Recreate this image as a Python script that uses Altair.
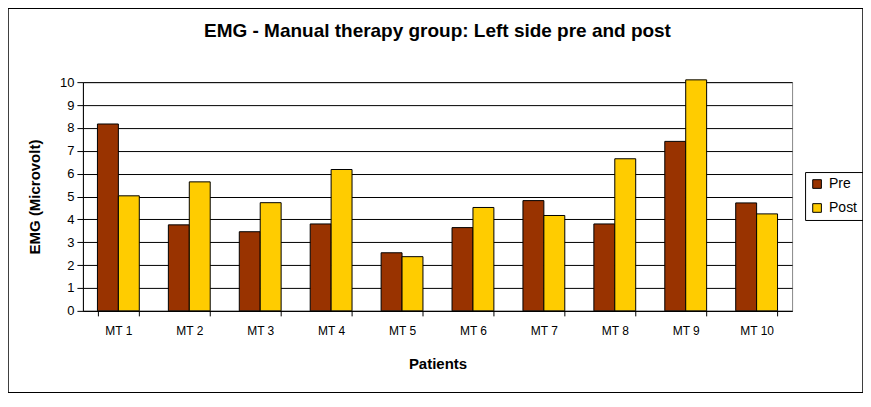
import altair as alt
import pandas as pd

patients = ["MT 1", "MT 2", "MT 3", "MT 4", "MT 5", "MT 6", "MT 7", "MT 8", "MT 9", "MT 10"]
pre = [8.17, 3.76, 3.46, 3.8, 2.54, 3.64, 4.82, 3.8, 7.41, 4.72]
post = [5.03, 5.64, 4.73, 6.18, 2.37, 4.52, 4.17, 6.65, 10.1, 4.24]
series = ["Pre", "Post"]
colors = ["#993300", "#FFCC00"]

rows = []
for p, a, b in zip(patients, pre, post):
    rows.append({"Patient": p, "Series": "Pre", "Value": a})
    rows.append({"Patient": p, "Series": "Post", "Value": b})
df = pd.DataFrame(rows)

W, H = 710, 229
FONT = "Liberation Sans"

bars = alt.Chart(df).mark_bar(stroke="black", strokeWidth=1).encode(
    x=alt.X("Patient:N", sort=patients,
            scale=alt.Scale(paddingInner=0.41, paddingOuter=0.205),
            axis=alt.Axis(title="Patients", labelAngle=0, tickBand="extent",
                          tickSize=5, labelPadding=10, titlePadding=20,
                          domainColor="black", tickColor="black",
                          labelFontSize=12, titleFontSize=15, titleFontWeight="bold",
                          grid=False)),
    xOffset=alt.XOffset("Series:N", sort=series),
    y=alt.Y("Value:Q", scale=alt.Scale(domain=[0, 10], nice=False),
            axis=alt.Axis(title="EMG (Microvolt)", values=list(range(0, 11)),
                          tickSize=6, labelPadding=3, titlePadding=17,
                          domainColor="black", tickColor="black",
                          gridColor="#000000", gridWidth=1,
                          labelFontSize=13, titleFontSize=15, titleFontWeight="bold")),
    color=alt.Color("Series:N", sort=series,
                    scale=alt.Scale(domain=series, range=colors),
                    legend=alt.Legend(title=None, orient="none", legendX=723, legendY=90,
                                      strokeColor="black", padding=5,
                                      symbolType="square", symbolSize=75,
                                      symbolStrokeColor="black", symbolStrokeWidth=1,
                                      labelFontSize=14, rowPadding=10, labelOffset=5)),
)

frame = alt.Chart(pd.DataFrame({"a": [0]})).mark_rect(
    fill=None, stroke="black", strokeWidth=1.5, clip=False
).encode(
    x=alt.value(-75), x2=alt.value(W + 71),
    y=alt.value(-74), y2=alt.value(H + 82),
)

chart = alt.layer(frame, bars).properties(
    width=W, height=H,
    title=alt.Title("EMG - Manual therapy group: Left side pre and post",
                    fontSize=19, fontWeight="bold", font=FONT, offset=-34, anchor="middle"),
    padding={"left": 75, "top": 74, "right": 71, "bottom": 82},
    autosize=alt.AutoSizeParams(type="none"),
).configure(font=FONT).configure_view(stroke="#888888", strokeWidth=1).configure_axis(
    labelFont=FONT, titleFont=FONT, labelColor="black", titleColor="black"
).configure_legend(labelFont=FONT, labelColor="black")

chart.save("out.html", embed_options={"renderer": "svg", "actions": False})
